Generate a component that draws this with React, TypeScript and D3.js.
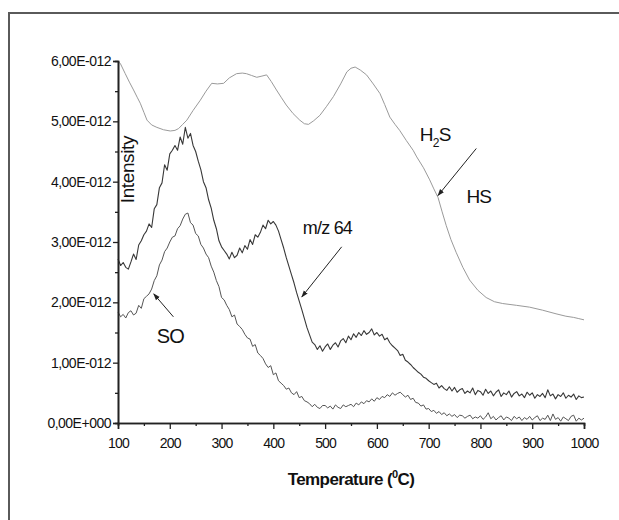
import React, { useRef, useEffect } from "react";
import * as d3 from "d3";

// x axis (temperature, °C)
const xTicks = [100, 200, 300, 400, 500, 600, 700, 800, 900, 1000];
// y axis, in units of 1E-12
const yTicks = [0, 1, 2, 3, 4, 5, 6];
const yTickLabels = ["0,00E+000", "1,00E-012", "2,00E-012", "3,00E-012", "4,00E-012", "5,00E-012", "6,00E-012"];

// H2S trace (smooth, light grey)
const h2sTemps = [100, 105, 114, 122, 130, 137, 143, 150, 156, 165, 175, 188, 201, 210, 217, 225, 233, 245, 259, 270, 281, 292, 304, 315, 329, 340, 348, 358, 368, 378, 387, 396, 406, 415, 425, 438, 451, 460, 468, 478, 490, 503, 516, 530, 542, 550, 558, 568, 580, 593, 606, 615, 625, 635, 644, 657, 670, 677, 690, 702, 710, 718, 726, 734, 743, 753, 766, 779, 795, 811, 827, 843, 870, 895, 920, 946, 965, 980, 990, 1000];
const h2sValues = [6.0, 5.95, 5.79, 5.65, 5.52, 5.4, 5.3, 5.15, 5.02, 4.94, 4.9, 4.86, 4.84, 4.85, 4.88, 4.95, 5.02, 5.18, 5.35, 5.5, 5.63, 5.62, 5.63, 5.72, 5.79, 5.8, 5.79, 5.76, 5.73, 5.75, 5.77, 5.66, 5.52, 5.4, 5.27, 5.13, 5.02, 4.96, 4.95, 5.01, 5.1, 5.25, 5.41, 5.62, 5.82, 5.88, 5.9, 5.85, 5.77, 5.62, 5.46, 5.28, 5.07, 4.95, 4.85, 4.68, 4.52, 4.41, 4.23, 4.03, 3.88, 3.74, 3.5, 3.27, 3.04, 2.83, 2.58, 2.37, 2.2, 2.08, 2.01, 1.98, 1.95, 1.92, 1.87, 1.81, 1.77, 1.75, 1.73, 1.71];

// m/z 64 and SO scans, one reading every 5 °C from 100 to 1000
const scanTemps = d3.range(100, 1001, 5);
const mz64Values = [
  2.72, 2.61, 2.66, 2.58, 2.55, 2.67, 2.8, 2.71, 2.95, 3.02, 3.12, 3.18, 3.3, 3.24, 3.55, 3.62, 3.9, 3.98, 4.28, 4.19,
  4.46, 4.52, 4.6, 4.52, 4.74, 4.62, 4.9, 4.72, 4.8, 4.6, 4.5, 4.34, 4.2, 4.0, 3.9, 3.7, 3.56, 3.36, 3.22, 3.02,
  2.92, 2.86, 2.8, 2.72, 2.83, 2.74, 2.78, 2.9, 2.82, 2.94, 2.88, 3.04, 2.96, 3.12, 3.08, 3.16, 3.28, 3.22, 3.36, 3.3,
  3.34, 3.28, 3.18, 3.04, 2.9, 2.74, 2.6, 2.46, 2.32, 2.16, 2.02, 1.88, 1.73, 1.58, 1.46, 1.34, 1.3, 1.22, 1.28, 1.19,
  1.26, 1.31, 1.22, 1.29, 1.33, 1.26, 1.36, 1.4, 1.33, 1.44, 1.38, 1.48, 1.42, 1.5, 1.45, 1.53, 1.47, 1.5, 1.56, 1.46,
  1.5, 1.44, 1.47, 1.38, 1.41, 1.33, 1.28, 1.24, 1.2, 1.12, 1.14, 1.04, 1.01, 0.97, 0.92, 0.88, 0.84, 0.81, 0.76, 0.74,
  0.7, 0.67, 0.64, 0.66, 0.58, 0.62, 0.57, 0.54, 0.6, 0.53, 0.59, 0.51, 0.55, 0.57, 0.49, 0.53, 0.5, 0.58, 0.47, 0.54,
  0.52, 0.46, 0.56, 0.49, 0.53, 0.45, 0.51, 0.55, 0.44, 0.5, 0.47, 0.53, 0.43, 0.49, 0.52, 0.45, 0.48, 0.42, 0.51, 0.46,
  0.5, 0.41, 0.47, 0.44, 0.49, 0.42, 0.55, 0.45, 0.48, 0.4, 0.47, 0.44, 0.5, 0.41, 0.46, 0.43, 0.48, 0.39, 0.45, 0.42,
  0.43,
];
const soValues = [
  1.84, 1.76, 1.8, 1.74, 1.83, 1.86, 1.79, 1.82, 1.95, 1.9, 2.06, 2.1, 2.14, 2.22, 2.36, 2.44, 2.62, 2.7, 2.84, 2.9,
  3.0, 3.08, 3.1, 3.22, 3.27, 3.38, 3.46, 3.48, 3.32, 3.28, 3.14, 3.1, 2.96, 2.9, 2.8, 2.74, 2.6, 2.5, 2.36, 2.26,
  2.08, 2.04, 1.95, 1.88, 1.76, 1.79, 1.64, 1.6, 1.55, 1.47, 1.41, 1.39, 1.27, 1.3, 1.16, 1.12, 1.07, 0.98, 0.92, 0.95,
  0.8, 0.83, 0.7, 0.66, 0.62, 0.56, 0.58, 0.5, 0.47, 0.52, 0.42, 0.44, 0.37, 0.35, 0.32, 0.27, 0.31, 0.26, 0.24, 0.29,
  0.29, 0.25, 0.28, 0.23, 0.3, 0.26, 0.24, 0.3, 0.27, 0.29, 0.31, 0.27, 0.33, 0.3, 0.35, 0.32, 0.37, 0.35, 0.4, 0.36,
  0.42, 0.39, 0.44, 0.42, 0.47, 0.44, 0.5, 0.46, 0.49, 0.51, 0.47, 0.43, 0.46, 0.39, 0.41, 0.34, 0.33, 0.28, 0.3, 0.23,
  0.24, 0.19, 0.21, 0.16, 0.19, 0.14, 0.17, 0.12, 0.15, 0.11, 0.14, 0.09, 0.13, 0.12, 0.08, 0.11, 0.13, 0.07, 0.1, 0.08,
  0.12, 0.06, 0.1, 0.17, 0.07, 0.11, 0.05, 0.09, 0.12, 0.05, 0.1, 0.08, 0.04, 0.11, 0.07, 0.1, 0.04, 0.09, 0.06, 0.11,
  0.05, 0.09, 0.12, 0.04, 0.08, 0.06, 0.13, 0.04, 0.15, 0.06, 0.09, 0.03, 0.1, 0.07, 0.04, 0.11, 0.13, 0.03, 0.08, 0.05,
  0.08,
];

const FONT = "'Liberation Sans', Arial, sans-serif";

const App = () => {
  const svgRef = useRef<SVGSVGElement>(null);
  const width = 619;
  const height = 520;

  useEffect(() => {
    const svg = d3.select(svgRef.current);
    svg.selectAll("*").remove();

    const margin = { top: 61, left: 118, right: 35, bottom: 97 };
    const x = d3.scaleLinear().domain([100, 1000]).range([margin.left, width - margin.right]);
    const y = d3.scaleLinear().domain([0, 6]).range([height - margin.bottom, margin.top]);

    svg.append("rect").attr("width", width).attr("height", height).attr("fill", "#fff");

    // outer frame (left + top only)
    svg.append("path").attr("d", `M9,${height} V13 H${width}`)
      .attr("fill", "none").attr("stroke", "#5a5a5a").attr("stroke-width", 2);

    // arrow marker
    svg.append("defs").append("marker")
      .attr("id", "head").attr("viewBox", "0 0 10 10")
      .attr("refX", 9).attr("refY", 5)
      .attr("markerWidth", 7).attr("markerHeight", 7)
      .attr("orient", "auto")
      .append("path").attr("d", "M0,1.5 L10,5 L0,8.5 Z").attr("fill", "#222");

    // traces
    const line = d3.line<[number, number]>().x(d => x(d[0])).y(d => y(d[1]));
    const traces = [
      { t: h2sTemps, v: h2sValues, color: "#9a9a9a", w: 1 },
      { t: scanTemps, v: soValues, color: "#555", w: 1 },
      { t: scanTemps, v: mz64Values, color: "#383838", w: 1.1 },
    ];
    traces.forEach(s => {
      svg.append("path")
        .datum(s.t.map((t, i) => [t, s.v[i]] as [number, number]))
        .attr("fill", "none").attr("stroke", s.color)
        .attr("stroke-width", s.w).attr("stroke-linejoin", "round")
        .attr("d", line);
    });

    // x axis
    const xAxis = svg.append("g").attr("transform", `translate(0,${y(0)})`);
    xAxis.call(d3.axisBottom(x).tickValues(d3.range(150, 1000, 100)).tickSize(3).tickFormat(() => ""));
    xAxis.call(g => g.append("g").call(
      d3.axisBottom(x).tickValues(xTicks).tickSize(6).tickPadding(9).tickFormat(d3.format("d"))
    ));
    xAxis.selectAll(".domain").attr("stroke", "#222").attr("stroke-width", 1.6);
    xAxis.selectAll("line").attr("stroke", "#222").attr("stroke-width", 1.3);
    xAxis.selectAll("text").attr("font-family", FONT).attr("font-size", 14)
      .attr("letter-spacing", -0.8).attr("fill", "#111");

    // y axis
    const yAxis = svg.append("g").attr("transform", `translate(${x(100)},0)`);
    yAxis.call(d3.axisLeft(y).tickValues(d3.range(0.5, 6, 1)).tickSize(3).tickFormat(() => ""));
    yAxis.call(g => g.append("g").call(
      d3.axisLeft(y).tickValues(yTicks).tickSize(5).tickPadding(2)
        .tickFormat((d, i) => yTickLabels[i])
    ));
    yAxis.selectAll(".domain").attr("stroke", "#222").attr("stroke-width", 1.6);
    yAxis.selectAll("line").attr("stroke", "#222").attr("stroke-width", 1.3);
    yAxis.selectAll("text").attr("font-family", FONT).attr("font-size", 14)
      .attr("letter-spacing", -0.5).attr("fill", "#111");

    // axis titles
    const xt = svg.append("text")
      .attr("x", x(550)).attr("y", 485)
      .attr("text-anchor", "middle").attr("font-family", FONT)
      .attr("font-size", 17).attr("font-weight", "bold").attr("letter-spacing", -0.6).attr("fill", "#111");
    xt.append("tspan").text("Temperature (");
    xt.append("tspan").attr("font-size", 11).attr("dy", -7).text("0");
    xt.append("tspan").attr("dy", 7).text("C)");

    svg.append("text")
      .attr("transform", `translate(${x(131)},${y(4.2)}) rotate(-90)`)
      .attr("text-anchor", "middle").attr("font-family", FONT)
      .attr("font-size", 19).attr("letter-spacing", -0.4).attr("fill", "#111")
      .text("Intensity");

    // annotations
    const label = (t: number, v: number, txt: string, size = 19) =>
      svg.append("text").attr("x", x(t)).attr("y", y(v))
        .attr("font-family", FONT).attr("font-size", size)
        .attr("letter-spacing", -0.8).attr("fill", "#111").text(txt);

    const h2s = label(683, 4.67, "H");
    h2s.append("tspan").attr("font-size", 12).attr("dy", 6).text("2");
    h2s.append("tspan").attr("dy", -6).text("S");
    label(773, 3.64, "HS");
    label(457, 3.14, "m/z 64", 18);
    label(175, 1.32, "SO", 20);

    const arrows = [
      [792, 4.55, 718, 3.77],
      [532, 2.92, 455, 2.09],
      [207, 1.76, 169, 2.14],
    ];
    arrows.forEach(([t1, v1, t2, v2]) => {
      svg.append("line")
        .attr("x1", x(t1)).attr("y1", y(v1)).attr("x2", x(t2)).attr("y2", y(v2))
        .attr("stroke", "#222").attr("stroke-width", 1)
        .attr("marker-end", "url(#head)");
    });
  }, []);

  return (
    <div style={{ position: "absolute", left: 0, top: 0 }}>
      <svg ref={svgRef} width={width} height={height} style={{ display: "block" }}></svg>
    </div>
  );
};

export default App;
